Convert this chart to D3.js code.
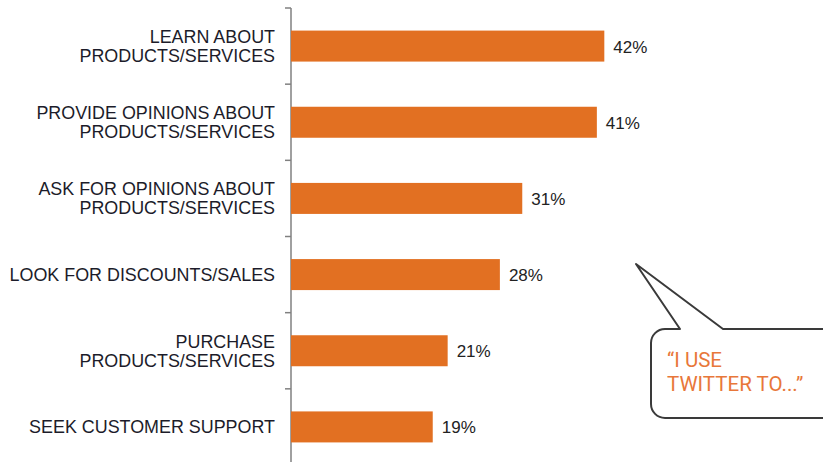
<!DOCTYPE html>
<html>
<head>
<meta charset="utf-8">
<script src="https://cdn.jsdelivr.net/npm/d3@7"></script>
<style>
  html, body { margin: 0; padding: 0; background: #fff; }
  svg { display: block; }
</style>
</head>
<body>
<svg id="chart" width="823" height="462"></svg>
<script>
// Share of users by reason for using Twitter
const categories = [
  ["LEARN ABOUT", "PRODUCTS/SERVICES"],
  ["PROVIDE OPINIONS ABOUT", "PRODUCTS/SERVICES"],
  ["ASK FOR OPINIONS ABOUT", "PRODUCTS/SERVICES"],
  ["LOOK FOR DISCOUNTS/SALES"],
  ["PURCHASE", "PRODUCTS/SERVICES"],
  ["SEEK CUSTOMER SUPPORT"]
];
const values = [42, 41, 31, 28, 21, 19];
const calloutLines = ["\u201CI USE", "TWITTER TO...\u201D"];

const svg = d3.select("#chart");
const font = "'Liberation Sans', Arial, sans-serif";
const keys = categories.map((c, i) => i);

const axisX = 291;
const x = d3.scaleLinear().domain([0, 50]).range([axisX, axisX + 373]);
const y = d3.scaleBand().domain(keys).range([8, 465]).padding(0);
const barH = 31;

// Axis line and category boundary ticks
const axis = svg.append("g").attr("stroke", "#808080").attr("stroke-width", 1.5);
axis.append("line")
  .attr("x1", axisX).attr("x2", axisX)
  .attr("y1", y.range()[0]).attr("y2", y.range()[1]);
axis.selectAll("line.tick").data(keys).join("line")
  .attr("class", "tick")
  .attr("x1", axisX - 6).attr("x2", axisX)
  .attr("y1", d => y(d)).attr("y2", d => y(d));

// Bars
svg.selectAll("rect.bar").data(values).join("rect")
  .attr("class", "bar")
  .attr("x", x(0))
  .attr("y", (d, i) => y(i) + y.bandwidth() / 2 - barH / 2)
  .attr("width", d => x(d) - x(0))
  .attr("height", barH)
  .attr("fill", "#e27022");

// Value labels
svg.selectAll("text.val").data(values).join("text")
  .attr("class", "val")
  .attr("x", d => x(d) + 9)
  .attr("y", (d, i) => y(i) + y.bandwidth() / 2 + 6.5)
  .attr("font-family", font)
  .attr("font-size", 17)
  .attr("fill", "#222")
  .text(d => d + "%");

// Category labels
const lineH = 19;
const labels = svg.selectAll("text.cat").data(categories).join("text")
  .attr("class", "cat")
  .attr("text-anchor", "end")
  .attr("font-family", font)
  .attr("font-size", 17.9)
  .attr("fill", "#1c1c2a");
labels.each(function(lines, i) {
  const cy = y(i) + y.bandwidth() / 2;
  const first = cy + 6.5 - (lines.length - 1) * lineH / 2;
  d3.select(this).selectAll("tspan").data(lines).join("tspan")
    .attr("x", 275)
    .attr("y", (d, j) => first + j * lineH)
    .text(d => d);
});

// Speech-bubble callout
const bx = 651, by = 329, bw = 200, bh = 89, r = 14;
const tail = { left: 680, right: 723, tipX: 636, tipY: 264 };
const path = d3.path();
path.moveTo(bx + r, by);
path.lineTo(tail.left, by);
path.lineTo(tail.tipX, tail.tipY);
path.lineTo(tail.right, by);
path.lineTo(bx + bw - r, by);
path.arcTo(bx + bw, by, bx + bw, by + r, r);
path.lineTo(bx + bw, by + bh - r);
path.arcTo(bx + bw, by + bh, bx + bw - r, by + bh, r);
path.lineTo(bx + r, by + bh);
path.arcTo(bx, by + bh, bx, by + bh - r, r);
path.lineTo(bx, by + r);
path.arcTo(bx, by, bx + r, by, r);
path.closePath();
svg.append("path")
  .attr("d", path.toString())
  .attr("fill", "#fff")
  .attr("stroke", "#3a3a3a")
  .attr("stroke-width", 2)
  .attr("stroke-linejoin", "round");

svg.append("text")
  .attr("font-family", "Roboto, 'Liberation Sans', sans-serif")
  .attr("font-size", 20.5)
  .attr("fill", "#e8773a")
  .selectAll("tspan").data(calloutLines).join("tspan")
  .attr("x", 667)
  .attr("y", (d, j) => 367 + j * 24)
  .text(d => d);
</script>
</body>
</html>
